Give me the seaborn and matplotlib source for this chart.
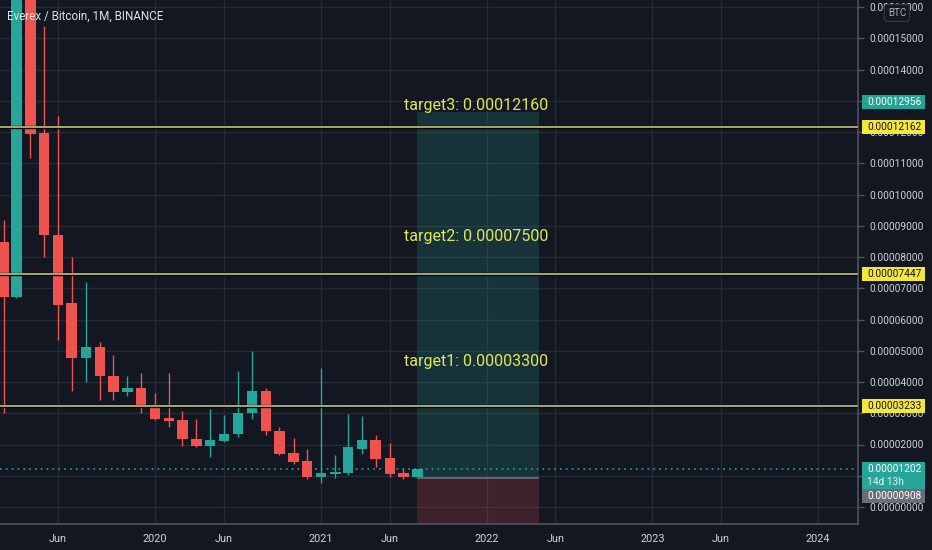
import numpy as np
import pandas as pd
import matplotlib
matplotlib.use("Agg")
import matplotlib.pyplot as plt
from matplotlib.patches import Rectangle
import seaborn as sns

# ---------------- data (prices in units of 1e-5 BTC) ----------------
months = pd.date_range("2019-02-01", "2021-08-01", freq="MS")
opens = [8.48, 6.72, 17.6, 11.97, 8.70, 6.53, 4.77, 5.12, 4.19, 3.68, 3.81,
         3.23, 2.85, 2.78, 2.18, 1.95, 2.11, 2.34, 3.01, 3.71, 2.43, 1.73,
         1.47, 0.96, 1.06, 1.09, 1.86, 2.14, 1.57, 1.09, 0.96]
highs = [9.18, 20.0, 19.5, 15.39, 12.51, 8.00, 7.20, 5.28, 4.86, 4.19, 4.29,
         3.65, 4.29, 3.07, 2.82, 3.14, 2.94, 4.35, 4.99, 3.81, 2.56, 2.21,
         1.86, 4.45, 1.66, 2.98, 2.91, 2.30, 2.05, 1.22, 1.202]
lows = [3.01, 6.70, 11.17, 8.00, 5.34, 3.71, 4.00, 3.42, 3.42, 3.55, 3.01,
        2.78, 2.56, 1.95, 1.92, 1.60, 2.08, 2.24, 2.82, 2.30, 1.66, 1.38,
        0.90, 0.77, 0.93, 1.02, 1.70, 1.28, 0.96, 0.90, 0.96]
closes = [6.72, 17.6, 11.94, 8.70, 6.46, 4.77, 5.12, 4.19, 3.68, 3.81, 3.20,
          2.82, 2.75, 2.18, 1.95, 2.14, 2.34, 3.01, 3.71, 2.43, 1.70, 1.44,
          0.96, 1.09, 1.12, 1.92, 2.14, 1.54, 1.06, 0.96, 1.202]

target_levels = [3.233, 7.447, 12.162]
target_texts = ["target1: 0.00003300", "target2: 0.00007500", "target3: 0.00012160"]
target_text_y = [4.67, 8.64, 12.86]

last_price = 1.202
countdown = "14d 13h"
stop_label = 0.908
pos_target_label = 12.956
pos_start, pos_end = pd.Timestamp("2021-08-01"), pd.Timestamp("2022-04-26")
pos_entry, pos_top = 0.94, 12.65

x_ticks = pd.to_datetime(["2019-06-01", "2020-01-01", "2020-06-01", "2021-01-01",
                          "2021-06-01", "2022-01-01", "2022-06-01", "2023-01-01",
                          "2023-06-01", "2024-01-01"])
x_labels = ["Jun", "2020", "Jun", "2021", "Jun", "2022", "Jun", "2023", "Jun", "2024"]
y_ticks = np.arange(0, 17)

SCALE = 1e-5
BG = "#131722"
GRID = "#262a35"
TEAL = "#26a69a"
RED = "#ef5350"
YEL = "#d6d47c"
TXT = "#cfd2da"

sns.set_theme(style="darkgrid", rc={"axes.facecolor": BG, "figure.facecolor": BG,
                                    "grid.color": GRID, "grid.linewidth": 1.0})
plt.rcParams["font.family"] = ["Roboto", "DejaVu Sans"]

fig = plt.figure(figsize=(9.32, 5.5), dpi=100)
ax = fig.add_axes([0, 26 / 550, 858 / 932, 524 / 550])
ax.set_facecolor(BG)

xmin, xmax = pd.Timestamp("2019-01-24"), pd.Timestamp("2024-03-29")
ymin, ymax = -0.544 * SCALE, 16.224 * SCALE
ax.set_xlim(xmin, xmax)
ax.set_ylim(ymin, ymax)

df = pd.DataFrame({"date": months, "open": np.array(opens) * SCALE,
                   "high": np.array(highs) * SCALE, "low": np.array(lows) * SCALE,
                   "close": np.array(closes) * SCALE})
df["up"] = df["close"] >= df["open"]
colors = [TEAL if u else RED for u in df["up"]]

# position zones
ax.fill_between([pos_start, pos_end], pos_entry * SCALE, pos_top * SCALE,
                color=TEAL, alpha=0.2, lw=0, zorder=1)
ax.fill_between([pos_start, pos_end], ymin, pos_entry * SCALE,
                color=RED, alpha=0.2, lw=0, zorder=1)
ax.hlines(pos_entry * SCALE, pos_start, pos_end, color="#6b6e78", lw=1.2, zorder=1.5)

# current price dotted line
sns.lineplot(x=[xmin, xmax], y=[last_price * SCALE] * 2, ax=ax, color=TEAL,
             lw=1.2, linestyle=(0, (1, 2.5)), zorder=1.6)

# candles
ax.vlines(df["date"], df["low"], df["high"], colors=colors, lw=1, zorder=3)
ax.bar(df["date"], (df["close"] - df["open"]).abs(),
       bottom=df[["open", "close"]].min(axis=1), width=23, color=colors,
       lw=0, zorder=3.5)

# horizontal target lines
for lv in target_levels:
    ax.axhline(lv * SCALE, color="#05060a", lw=2.4, zorder=4)
    ax.axhline(lv * SCALE, color=YEL, lw=1.1, zorder=4.1)

xc = pd.Timestamp("2021-12-09")
for t, ty in zip(target_texts, target_text_y):
    ax.text(xc, ty * SCALE, t, color="#e4e45a", fontsize=11.5, ha="center",
            va="center", zorder=6)

# axes styling
ax.yaxis.tick_right()
ax.set_yticks(y_ticks * SCALE)
ax.set_yticklabels([f"{v * SCALE:.8f}" for v in y_ticks])
ax.set_xticks(x_ticks)
ax.set_xticklabels(x_labels)
ax.tick_params(axis="both", colors="#50535e", labelcolor=TXT, labelsize=7.3,
               length=4, width=1, direction="out")
ax.tick_params(axis="y", pad=4)
ax.tick_params(axis="x", pad=3, labelsize=7.8)
ax.grid(True, color=GRID, lw=1)
for s in ["left", "top"]:
    ax.spines[s].set_visible(False)
for s in ["right", "bottom"]:
    ax.spines[s].set_visible(True)
    ax.spines[s].set_color("#50535e")
    ax.spines[s].set_linewidth(1.2)
ax.set_xlabel("")
ax.set_ylabel("")

# right-side price boxes
px = (ymax - ymin) / 524.0
bx0, bw = 1 + 4 / 858, 63 / 858
tx = 1 + 9 / 858
ytr = ax.get_yaxis_transform()


def price_box(v, text, fc, tc, h_up=7, h_down=7):
    r = Rectangle((bx0, v - h_down * px), bw, (h_up + h_down) * px, transform=ytr,
                  facecolor=fc, edgecolor="none", clip_on=False, zorder=8)
    ax.add_patch(r)
    ax.text(tx, v, text, transform=ytr, color=tc, fontsize=7.3, ha="left",
            va="center", clip_on=False, zorder=9)


for lv in target_levels:
    price_box(lv * SCALE, f"{lv * SCALE:.8f}", "#f5e63c", "#131722")
price_box(pos_target_label * SCALE, f"{pos_target_label * SCALE:.8f}", "#22a393", "#ffffff")
price_box(last_price * SCALE, f"{last_price * SCALE:.8f}", TEAL, "#ffffff", h_up=7, h_down=20)
ax.text(tx, last_price * SCALE - 13 * px, countdown, transform=ytr, color="#e8f5f3",
        fontsize=7.3, ha="left", va="center", clip_on=False, zorder=9)
stop_y = last_price * SCALE - 27 * px
r = Rectangle((bx0, stop_y - 7 * px), bw, 14 * px, transform=ytr,
              facecolor="#6a6d78", edgecolor="none", clip_on=False, zorder=8)
ax.add_patch(r)
ax.text(tx, stop_y, f"{stop_label * SCALE:.8f}", transform=ytr, color="#ffffff",
        fontsize=7.3, ha="left", va="center", clip_on=False, zorder=9)

# title and BTC badge
fig.text(7 / 932, 1 - 16 / 550, "Everex / Bitcoin, 1M, BINANCE", color="#dfe1e7",
         fontsize=8.4, ha="left", va="center")
fig.text(897 / 932, 1 - 13 / 550, "BTC", color="#b2b5be", fontsize=7, ha="center",
         va="center", bbox=dict(boxstyle="round,pad=0.35", fc=BG, ec="#363a45", lw=0.8))

fig.savefig("out.png", dpi=100, facecolor=BG)
